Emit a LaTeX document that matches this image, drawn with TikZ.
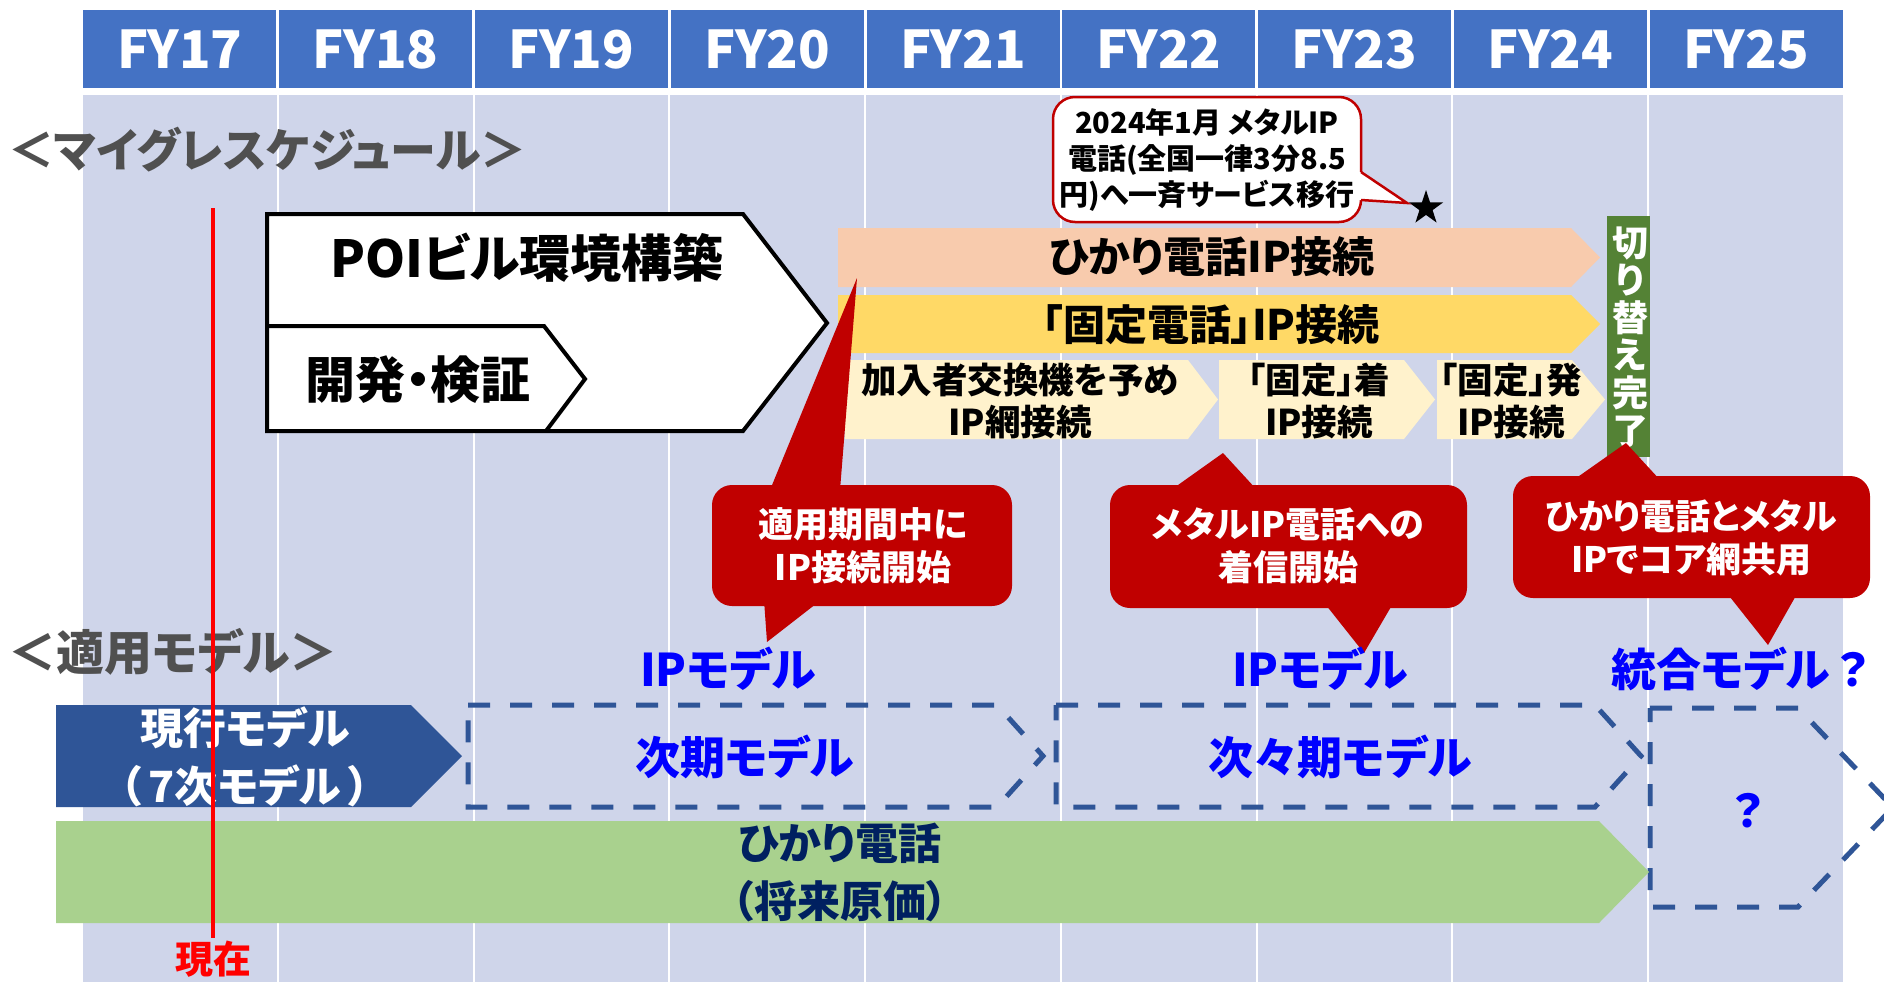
\documentclass[tikz,border=0pt]{standalone}
\usepackage{fontspec}
\setmainfont{Noto Sans CJK JP}[RawFeature=+palt]
\usetikzlibrary{shapes.geometric,calc}
\definecolor{hdrblue}{HTML}{4472C4}
\definecolor{lav}{HTML}{CFD5EA}
\definecolor{dgrey}{HTML}{505050}
\definecolor{peach}{HTML}{F8CBAD}
\definecolor{gold}{HTML}{FFD966}
\definecolor{cream}{HTML}{FFF2CC}
\definecolor{olive}{HTML}{548235}
\definecolor{calred}{HTML}{C00000}
\definecolor{dblue}{HTML}{2F5597}
\definecolor{lgreen}{HTML}{A9D18E}
\definecolor{navy}{HTML}{002060}
\definecolor{pureblue}{HTML}{0000FF}
\newcommand{\fsz}[2]{\fontsize{#1}{#2}\selectfont\bfseries}
\tikzset{
  base/.style={inner sep=0pt, align=center},
  hdr/.style={base, fill=hdrblue, text=white, minimum width=193pt, minimum height=77pt, font=\fsz{52}{55}},
  grey/.style={base, text=dgrey, font=\fsz{46}{50}},
  blk/.style={base, text=black},
  wht/.style={base, text=white},
  blu/.style={base, text=pureblue, font=\fsz{45}{50}},
  dashbox/.style={draw=dblue, line width=5pt, dash pattern=on 22pt off 20pt},
  redbox/.style={fill=calred, rounded corners=20pt},
}
\begin{document}
\begin{tikzpicture}[x=1pt,y=-1pt]
\useasboundingbox (0,0) rectangle (1884,982);
\fill[white] (0,0) rectangle (1884,982);
% columns and header
\foreach \i/\lab in {0/FY17,1/FY18,2/FY19,3/FY20,4/FY21,5/FY22,6/FY23,7/FY24,8/FY25} {
  \fill[lav] ({82+195.78*\i+1},95) rectangle ({82+195.78*(\i+1)-1},982);
  \node[hdr] (h\i) at ({82+195.78*\i+97.89},49) {\lab};
}
% section labels
\node[grey, anchor=west] (sched) at (8,150) {＜マイグレスケジュール＞};
\node[grey, anchor=west, font=\fsz{48}{50}] (model) at (8,652) {＜適用モデル＞};
% POI pentagons
\filldraw[fill=white, draw=black, line width=4pt, line join=miter] (267,214) -- (743,214) -- (827,323) -- (743,431) -- (267,431) -- cycle;
\draw[line width=4pt, line join=miter] (267,326) -- (544,326) -- (585,379) -- (546,431);
\node[blk, font=\fsz{51}{55}] (poi) at (527,258) {POIビル環境構築};
\node[blk, font=\fsz{50}{55}] (dev) at (418,380) {開発・検証};
% bars
\fill[peach] (838,228) -- (1571,228) -- (1600,257.5) -- (1571,287) -- (838,287) -- cycle;
\node[blk, font=\fsz{42}{48}] (hikariip) at (1212,257) {ひかり電話IP接続};
\fill[gold] (838,295) -- (1571,295) -- (1600,324) -- (1571,353) -- (838,353) -- cycle;
\node[blk, font=\fsz{42}{48}] (koteiip) at (1211,325) {「固定電話」IP接続};
\fill[cream] (845,360) -- (1188,360) -- (1218,399.5) -- (1188,439) -- (845,439) -- cycle;
\fill[cream] (1219,360) -- (1404,360) -- (1435,399.5) -- (1404,439) -- (1219,439) -- cycle;
\fill[cream] (1437,360) -- (1572,360) -- (1605,399.5) -- (1572,439) -- (1437,439) -- cycle;
\node[blk, font=\fsz{35.5}{42}] (c1) at (1020,401) {加入者交換機を予め\\IP網接続};
\node[blk, font=\fsz{35.5}{42}] (c2) at (1319,401) {「固定」着\\IP接続};
\node[blk, font=\fsz{35.5}{42}] (c3) at (1511,401) {「固定」発\\IP接続};
% switch-over bar
\fill[olive] (1607,216) rectangle (1650,457);
\node[wht, font=\fsz{36}{37.6}] (kirikae) at (1630,337) {切\\り\\替\\え\\完\\了};
% star and note callout
\node[star, star points=5, star point ratio=2.6, fill=black, minimum size=36pt, inner sep=0pt] (star) at (1426,208) {};
\filldraw[fill=white, draw=calred, line width=2.5pt, rounded corners=22pt] (1053,97) rectangle (1361,222);
\fill[white] (1356,172) -- (1361,172) -- (1407,203) -- (1361,200) -- (1356,200) -- cycle;
\draw[calred, line width=2.5pt, line join=miter] (1361,172) -- (1407,203) -- (1361,200);
\node[blk, font=\fsz{29}{36}] (note) at (1207,160) {2024年1月 メタルIP\\電話(全国一律3分8.5\\円)へ一斉サービス移行};
% red callouts
\fill[redbox] (712,485) rectangle (1012,606);
\fill[calred] (770,490) -- (857,278) -- (840,490) -- cycle;
\fill[calred] (764,600) -- (767,642) -- (821,600) -- cycle;
\node[wht, font=\fsz{35}{43}] (co1) at (863,546) {適用期間中に\\IP接続開始};
\fill[redbox] (1110,485) rectangle (1467,608);
\fill[calred] (1171,490) -- (1223,453) -- (1257,490) -- cycle;
\fill[calred] (1322,600) -- (1364,653) -- (1395,600) -- cycle;
\node[wht, font=\fsz{35}{43}] (co2) at (1288,546) {メタルIP電話への\\着信開始};
\fill[redbox] (1513,476) rectangle (1870,598);
\fill[calred] (1572,481) -- (1626,443) -- (1661,481) -- cycle;
\fill[calred] (1726,592) -- (1768,645) -- (1798,592) -- cycle;
\node[wht, font=\fsz{35}{43}] (co3) at (1691,538) {ひかり電話とメタル\\IPでコア網共用};
% model labels
\node[blu] (ipm1) at (728,669) {IPモデル};
\node[blu] (ipm2) at (1320,669) {IPモデル};
\node[blu] (tougou) at (1740,669) {統合モデル\,？};
% dashed future models
\draw[dashbox] (468,705) -- (997,705) -- (1043,756) -- (997,807) -- (468,807) -- cycle;
\draw[dashbox] (1056,705) -- (1595,705) -- (1641,756) -- (1595,807) -- (1056,807) -- cycle;
\draw[dashbox] (1650,708) -- (1798,708) -- (1893,807.5) -- (1798,907) -- (1650,907) -- cycle;
\node[blu] (jiki) at (745,757) {次期モデル};
\node[blu] (jijiki) at (1340,757) {次々期モデル};
\node[blu] (q) at (1748,811) {？};
% current model
\fill[dblue] (56,705) -- (411,705) -- (462,756) -- (411,807) -- (56,807) -- cycle;
\node[wht, font=\fsz{43}{58}] (genko) at (245,757) {現行モデル\\（\,7次モデル\,）};
% hikari denwa bar
\fill[lgreen] (56,821) -- (1599,821) -- (1649,872) -- (1599,923) -- (56,923) -- cycle;
\node[base, text=navy, font=\fsz{43}{58}] (hikari) at (840,872) {ひかり電話\\（将来原価）};
% now line
\coordinate (nowtop) at (213,208);
\node[base, text=red, font=\fsz{38}{42}, inner sep=3pt] (now) at (213,959) {現在};
\draw[red, line width=3.5pt] (nowtop) -- (now.north);
\end{tikzpicture}
\end{document}
